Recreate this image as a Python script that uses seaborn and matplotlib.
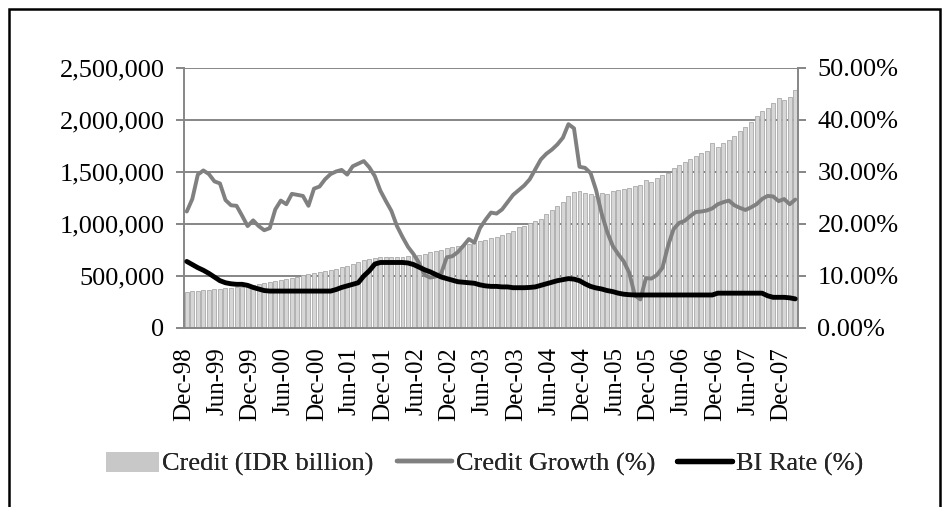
import numpy as np
import pandas as pd
import matplotlib
matplotlib.use("Agg")
import matplotlib.pyplot as plt
from matplotlib.patches import Patch, Rectangle
from matplotlib.lines import Line2D
import seaborn as sns

# ---------------- data (monthly, Dec-1998 .. Feb-2008) ----------------
months = pd.date_range("1998-12-01", periods=111, freq="MS").strftime("%b-%y").tolist()

credit = [350000, 352000, 356000, 362000, 366000, 372000, 378000, 382000, 388000, 392000,
          396000, 402000, 412000, 420000, 432000, 442000, 450000, 458000, 468000, 480000,
          492000, 505000, 518000, 528000, 536000, 545000, 556000, 570000, 585000, 600000,
          618000, 635000, 650000, 662000, 672000, 682000, 684000, 680000, 678000, 682000,
          688000, 695000, 702000, 712000, 728000, 742000, 752000, 765000, 778000, 792000,
          800000, 812000, 822000, 836000, 848000, 862000, 878000, 892000, 912000, 935000,
          968000, 985000, 1005000, 1030000, 1050000, 1095000, 1130000, 1170000, 1215000, 1265000,
          1310000, 1320000, 1300000, 1285000, 1270000, 1300000, 1290000, 1315000, 1325000, 1340000,
          1350000, 1365000, 1375000, 1420000, 1405000, 1440000, 1475000, 1495000, 1535000, 1570000,
          1600000, 1625000, 1650000, 1680000, 1700000, 1780000, 1745000, 1775000, 1810000, 1850000,
          1890000, 1935000, 1985000, 2040000, 2090000, 2120000, 2160000, 2210000, 2190000, 2220000,
          2285000]

credit_growth = [22.4, 24.8, 29.5, 30.3, 29.6, 28.2, 27.8, 24.6, 23.6, 23.5,
                 21.6, 19.6, 20.7, 19.6, 18.8, 19.2, 22.8, 24.5, 23.8, 25.8,
                 25.6, 25.4, 23.5, 26.8, 27.2, 28.6, 29.6, 30.1, 30.4, 29.5,
                 31.1, 31.6, 32.1, 30.9, 29.2, 26.4, 24.4, 22.5, 19.6, 17.5,
                 15.6, 14.2, 12.5, 10.2, 9.7, 9.9, 10.5, 13.6, 13.8, 14.6,
                 15.8, 17.1, 16.4, 19.2, 20.8, 22.2, 22.0, 22.8, 24.2, 25.6,
                 26.5, 27.4, 28.6, 30.5, 32.4, 33.5, 34.3, 35.3, 36.6, 39.2,
                 38.4, 31.0, 30.8, 29.8, 26.5, 22.0, 18.5, 15.8, 14.2, 12.8,
                 10.6, 6.3, 5.5, 9.6, 9.5, 10.2, 11.6, 15.8, 19.0, 20.2,
                 20.6, 21.5, 22.3, 22.4, 22.6, 23.0, 23.8, 24.2, 24.5, 23.6,
                 23.1, 22.7, 23.2, 23.8, 24.8, 25.4, 25.3, 24.4, 24.8, 23.8,
                 24.7]

bi_rate = [12.8, 12.2, 11.6, 11.1, 10.5, 9.8, 9.1, 8.7, 8.5, 8.4,
           8.4, 8.2, 7.8, 7.5, 7.2, 7.1, 7.1, 7.1, 7.1, 7.1,
           7.1, 7.1, 7.1, 7.1, 7.1, 7.1, 7.1, 7.4, 7.8, 8.1,
           8.4, 8.7, 10.0, 11.0, 12.3, 12.6, 12.6, 12.6, 12.6, 12.6,
           12.5, 12.2, 11.7, 11.2, 10.8, 10.3, 9.8, 9.5, 9.2, 8.9,
           8.8, 8.7, 8.6, 8.3, 8.1, 8.0, 8.0, 7.9, 7.9, 7.75,
           7.75, 7.75, 7.8, 7.9, 8.2, 8.5, 8.8, 9.1, 9.3, 9.5,
           9.4, 9.1, 8.5, 8.0, 7.7, 7.5, 7.2, 7.0, 6.7, 6.5,
           6.4, 6.35, 6.35, 6.35, 6.35, 6.35, 6.35, 6.35, 6.35, 6.35,
           6.35, 6.35, 6.35, 6.35, 6.35, 6.35, 6.7, 6.7, 6.7, 6.7,
           6.7, 6.7, 6.7, 6.7, 6.7, 6.2, 5.9, 5.9, 5.9, 5.8,
           5.6]

tick_labels = ["Dec-98", "Jun-99", "Dec-99", "Jun-00", "Dec-00", "Jun-01", "Dec-01",
               "Jun-02", "Dec-02", "Jun-03", "Dec-03", "Jun-04", "Dec-04", "Jun-05",
               "Dec-05", "Jun-06", "Dec-06", "Jun-07", "Dec-07"]

legend_labels = ["Credit (IDR billion)", "Credit Growth (%)", "BI Rate (%)"]

df = pd.DataFrame({"month": months, "credit": credit,
                   "growth": credit_growth, "bi": bi_rate})
df["idx"] = np.arange(len(df))

# ---------------- style ----------------
sns.set_style("white")
plt.rcParams["font.family"] = ["Liberation Serif", "DejaVu Serif"]
plt.rcParams["font.size"] = 18

GRID = "#868686"
fig = plt.figure(figsize=(9.46, 5.07), dpi=100)
ax = fig.add_axes([184 / 946, 1 - 328 / 507, (798 - 184) / 946, (328 - 68) / 507])

sns.barplot(data=df, x="month", y="credit", ax=ax, color="#d6d6d6", saturation=1,
            width=0.72, edgecolor="#a9a9a9", linewidth=0.6, zorder=2)

ax.set_xlim(-0.5, len(df) - 0.5)
ax.set_ylim(0, 2500000)
ax.set_yticks(np.arange(0, 2500001, 500000))
ax.set_yticklabels([f"{v:,.0f}" for v in np.arange(0, 2500001, 500000)], fontsize=19)
ax.set_xticks(np.arange(0, 109, 6) - 0.5)
ax.set_xticklabels(tick_labels, rotation=90, fontsize=18)
ax.set_xlabel("")
ax.set_ylabel("")
ax.set_axisbelow(True)
ax.yaxis.grid(True, color=GRID, linewidth=1.4, zorder=0)
ax.xaxis.grid(False)
for s in ["left", "bottom"]:
    ax.spines[s].set_color(GRID)
    ax.spines[s].set_linewidth(1.4)
ax.spines["top"].set_visible(False)
ax.spines["right"].set_visible(False)
ax.tick_params(axis="both", which="major", direction="out", length=6, width=1.4,
               color=GRID, labelcolor="black")
ax.tick_params(axis="x", pad=8)
ax.tick_params(axis="y", pad=8)

ax2 = ax.twinx()
sns.lineplot(data=df, x="idx", y="growth", ax=ax2, color="#808080", linewidth=2.8, zorder=3)
sns.lineplot(data=df, x="idx", y="bi", ax=ax2, color="black", linewidth=3.5, zorder=4)
ax2.set_ylim(0, 50)
ax2.set_yticks(np.arange(0, 51, 10))
ax2.set_yticklabels([f"{v:.2f}%" for v in np.arange(0, 51, 10)], fontsize=19)
ax2.set_xlim(-0.5, len(df) - 0.5)
ax2.set_ylabel("")
ax2.set_xlabel("")
ax2.grid(False)
for s in ["left", "top", "bottom"]:
    ax2.spines[s].set_visible(False)
ax2.spines["right"].set_color(GRID)
ax2.spines["right"].set_linewidth(1.4)
ax2.tick_params(axis="y", direction="out", length=6, width=1.4, color=GRID,
                labelcolor="black", pad=8)

handles = [Patch(facecolor="#c8c8c8", edgecolor="none"),
           Line2D([0], [0], color="#808080", linewidth=3.2),
           Line2D([0], [0], color="black", linewidth=3.8)]
leg_x = [106, 397, 677]
leg_len = [2.0, 2.1, 2.1]
leg_y = 1 - 464 / 507
for h, lab, x0, hl in zip(handles, legend_labels, leg_x, leg_len):
    lg = fig.legend([h], [lab], loc="center left", bbox_to_anchor=(x0 / 946, leg_y),
                    frameon=False, fontsize=19, handlelength=hl, handletextpad=0.12,
                    handleheight=0.8, borderpad=0, borderaxespad=0)
    fig.add_artist(lg)

fig.add_artist(Rectangle((9 / 946, -0.05), (940 - 9) / 946, 1.05 - 9 / 507,
                         transform=fig.transFigure, fill=False, edgecolor="black",
                         linewidth=1.8, clip_on=False))

fig.savefig("out.png", dpi=100)
